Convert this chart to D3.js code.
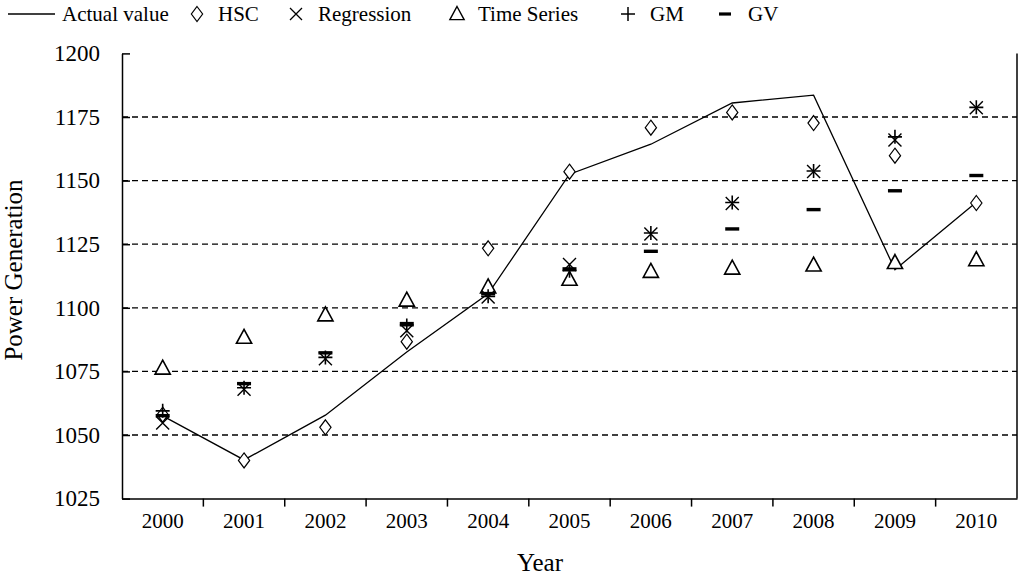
<!DOCTYPE html>
<html><head><meta charset="utf-8">
<script src="https://cdn.jsdelivr.net/npm/d3@7"></script>
<style>body{margin:0;background:#fff;} svg{display:block;} text{font-family:"Liberation Serif","Times New Roman",serif;fill:#000;}</style>
</head><body>
<svg id="c" width="1024" height="581"></svg>
<script>
const years = ["2000","2001","2002","2003","2004","2005","2006","2007","2008","2009","2010"];
const actual = [1057.5,1040.2,1057.8,1082.6,1105.5,1152.5,1164.3,1180.5,1183.6,1115,1141.5];
const hsc = [1058,1040,1053,1086.7,1123.4,1153.5,1170.8,1176.8,1172.6,1159.8,1141.2];
const regression = [1054.7,1068,1080,1091,1104.2,1117,1129,1141,1153.6,1166,1178.6];
const timeSeries = [1076.3,1088.4,1097.2,1103,1108.2,1111.2,1114.3,1115.6,1116.8,1117.8,1118.9];
const gm = [1059.5,1068.6,1080.5,1093,1104.5,1114.6,1129.4,1141.4,1153.8,1167.2,1178.8];
const gv = [1057.6,1070.2,1082.3,1093.8,1105.6,1115.3,1122.2,1131,1138.6,1146,1152];
const yTicks = [1025,1050,1075,1100,1125,1150,1175,1200];
const legendLabels = ["Actual value","HSC","Regression","Time Series","GM","GV"];

const svg = d3.select("#c");
const L = 122, R = 1017, T = 53.4, B = 498.6;
const x = d3.scaleBand().domain(years).range([L, R]).padding(0);
const y = d3.scaleLinear().domain([1025, 1200]).range([B, T]);
const cx = d => x(d) + x.bandwidth() / 2;

// gridlines
svg.append("g").selectAll("line").data(yTicks.filter(v => v > 1025 && v < 1200)).join("line")
  .attr("x1", L).attr("x2", R).attr("y1", d => y(d)).attr("y2", d => y(d))
  .attr("stroke", "#000").attr("stroke-width", 1.3).attr("stroke-dasharray", "6,4");

// y axis
const ya = svg.append("g").attr("transform", `translate(${L},0)`)
  .call(d3.axisLeft(y).tickValues(yTicks).tickSizeInner(-8).tickSizeOuter(0).tickPadding(22).tickFormat(d3.format("d")));
ya.select(".domain").attr("stroke-width", 1.5);
ya.selectAll(".tick line").attr("stroke-width", 1.5);
ya.selectAll("text").style("font-size", "23px").attr("font-family", null);

// x axis
const xa = svg.append("g").attr("transform", `translate(0,${B})`)
  .call(d3.axisBottom(x).tickSize(0).tickPadding(14));
xa.select(".domain").attr("stroke-width", 1.5);
xa.selectAll("text").style("font-size", "21px").attr("font-family", null);
svg.append("g").selectAll("line").data(years.slice(1)).join("line")
  .attr("x1", d => x(d)).attr("x2", d => x(d)).attr("y1", B).attr("y2", B + 8)
  .attr("stroke", "#000").attr("stroke-width", 1.5);
// right border
svg.append("line").attr("x1", R).attr("x2", R).attr("y1", T).attr("y2", B)
  .attr("stroke", "#000").attr("stroke-width", 1.5);

// axis titles
svg.append("text").attr("x", 540).attr("y", 571).attr("text-anchor", "middle")
  .style("font-size", "25px").text("Year");
svg.append("text").attr("transform", "translate(22,270) rotate(-90)").attr("text-anchor", "middle")
  .style("font-size", "25px").text("Power Generation");

// marker shapes
const shapes = {
  diamond: s => `M0,${-s}L${s*0.75},0L0,${s}L${-s*0.75},0Z`,
  cross: s => `M${-s},${-s}L${s},${s}M${s},${-s}L${-s},${s}`,
  tri: s => `M0,${-s}L${s*0.95},${s*0.75}L${-s*0.95},${s*0.75}Z`,
  plus: s => `M${-s},0L${s},0M0,${-s}L0,${s}`,
  dash: s => `M${-s},0L${s},0`
};
function markers(data, shape, size, width) {
  svg.append("g").selectAll("path").data(data).join("path")
    .attr("transform", (d, i) => `translate(${cx(years[i])},${y(d)})`)
    .attr("d", shapes[shape](size))
    .attr("fill", shape === "diamond" || shape === "tri" ? "#fff" : "none")
    .attr("stroke", "#000").attr("stroke-width", width);
}

// actual line
svg.append("path").datum(actual)
  .attr("d", d3.line().x((d, i) => cx(years[i])).y(d => y(d)))
  .attr("fill", "none").attr("stroke", "#000").attr("stroke-width", 1.3);

markers(timeSeries, "tri", 8, 1.6);
markers(hsc, "diamond", 7.5, 1.2);
markers(regression, "cross", 6.5, 1.4);
markers(gm, "plus", 7, 1.6);
markers(gv, "dash", 7, 3.4);

// legend
const lg = svg.append("g").attr("transform", "translate(0,14)");
lg.append("line").attr("x1", 8).attr("x2", 55).attr("y1", 0).attr("y2", 0).attr("stroke", "#000").attr("stroke-width", 1.5);
const legendSym = [null, {s: "diamond", x: 197, sz: 7.5, w: 1.2}, {s: "cross", x: 296, sz: 6, w: 1.3},
  {s: "tri", x: 457, sz: 7.5, w: 1.4}, {s: "plus", x: 628, sz: 7, w: 1.5}, {s: "dash", x: 725, sz: 6, w: 3.2}];
const legendX = [62, 218, 318, 478, 650, 748];
legendSym.forEach(m => {
  if (!m) return;
  lg.append("path").attr("transform", `translate(${m.x},0)`).attr("d", shapes[m.s](m.sz))
    .attr("fill", m.s === "diamond" || m.s === "tri" ? "#fff" : "none").attr("stroke", "#000").attr("stroke-width", m.w);
});
lg.selectAll("text.lab").data(legendLabels).join("text").attr("class", "lab")
  .attr("x", (d, i) => legendX[i]).attr("y", 7).style("font-size", "21px").text(d => d);
</script>
</body></html>
